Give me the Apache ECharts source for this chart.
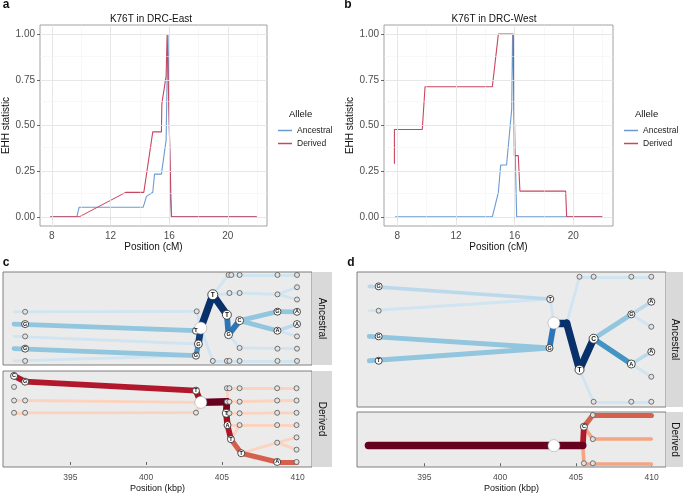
<!DOCTYPE html>
<html>
<head>
<meta charset="utf-8">
<script src="https://cdn.jsdelivr.net/npm/echarts@6/dist/echarts.min.js"></script>
<style>
html, body { margin: 0; padding: 0; background: #fff; }
#chart { width: 683px; height: 496px; }
</style>
</head>
<body>
<div id="chart"></div>
<script>
// EHH decay around K76T (panels a, b): [position cM, EHH]
var eastAncestral = [[7.89,0],[9.70,0],[9.86,0.053],[14.23,0.053],[14.45,0.112],[14.88,0.135],[15.00,0.234],[15.47,0.234],[15.79,0.42],[15.86,0.77],[15.92,1.0],[16.08,0.11],[16.17,0],[21.97,0]];
var eastDerived = [[7.89,0],[9.86,0],[13.03,0.134],[14.27,0.134],[14.88,0.465],[15.47,0.465],[15.50,0.62],[15.79,0.77],[15.86,1.0],[15.95,1.0],[16.15,0],[21.97,0]];
var westAncestral = [[7.84,0],[14.48,0],[14.89,0.134],[15.05,0.284],[15.45,0.284],[15.80,0.588],[15.86,1.0],[16.14,0],[22.0,0]];
var westDerived = [[7.80,0.291],[7.80,0.478],[9.70,0.478],[9.89,0.712],[14.48,0.712],[14.89,1.0],[15.91,1.0],[15.98,0.335],[16.25,0.335],[16.36,0.141],[19.48,0.141],[19.55,0],[22.0,0]];

var cmTicks = [8, 12, 16, 20];
var ehhTicks = [0, 0.25, 0.5, 0.75, 1];
var kbpTicks = [395, 400, 405, 410];

// bifurcation diagrams (panels c, d)
// nodes: [position kbp, haplotype row, allele, haplotypes]   allele '*' = core marker
// branches: [from kbp, from row, to kbp, to row, haplotypes]
var cAncNodes = [
  [392.01,4,'',1],[392.01,3,'G',3],[392.01,2,'T',1],[392.01,1,'G',3],[392.01,0,'T',1],
  [403.34,4.04,'',1],[403.29,2.46,'T',3],[403.45,1.38,'G',4],[403.29,0.43,'G',3],
  [403.61,2.68,'*',0],
  [404.40,5.39,'T',6],[405.33,3.76,'T',5],[405.44,2.14,'G',4],[406.17,3.28,'C',4],
  [405.50,5.53,'T',1],[406.17,5.53,'C',1],
  [405.44,7,'',1],[405.62,7,'',1],[406.17,7,'',1],
  [404.40,0,'',1],[405.33,0,'',1],[405.50,0,'',1],[406.17,0,'',1],[406.17,1.06,'T',1],
  [408.67,7,'',1],[408.67,5.42,'A',1],[408.67,4.01,'G',3],[408.67,2.46,'A',3],[408.67,1,'',1],[408.67,0,'',1],
  [409.96,7,'',1],[409.96,6,'',1],[409.96,5,'',1],[409.96,4,'A',3],[409.96,3,'A',3],[409.96,2,'',1],[409.96,1,'',1],[409.96,0,'',1]
];
var cAncBranches = [
  [391.28,4,403.34,4.04,1],[391.28,3,403.29,2.46,3],[391.28,2,403.45,1.38,1],
  [391.28,1,403.29,0.43,3],[391.28,0,403.29,0.43,1],
  [403.34,4.04,403.61,2.68,1],[403.29,2.46,403.61,2.68,3],[403.29,0.43,403.45,1.38,4],
  [403.45,1.38,403.61,2.68,7],[403.61,2.68,404.40,5.39,8],[404.40,5.39,405.33,3.76,8],
  [405.33,3.76,405.44,2.14,5],[405.44,2.14,406.17,3.28,5],
  [406.17,3.28,408.67,4.01,3],[406.17,3.28,408.67,2.46,3],
  [408.67,4.01,409.96,4,3],[408.67,2.46,409.96,3,2],[408.67,2.46,409.96,2,1],
  [404.40,5.39,406.17,5.53,1],[406.17,5.53,408.67,5.42,1],[408.67,5.42,409.96,6,1],[408.67,5.42,409.96,5,1],
  [404.40,5.39,405.44,7,1],[405.44,7,409.96,7,1],
  [403.61,2.68,404.40,0,1],[404.40,0,409.96,0,1],
  [405.44,2.14,406.17,1.06,1],[406.17,1.06,409.96,1,1]
];
var cDerNodes = [
  [391.28,7,'C',3],[392.01,6.53,'G',3],[391.28,6.1,'',1],
  [391.28,5,'',1],[392.01,5,'',1],[391.28,4,'',1],[392.01,4,'',1],
  [403.29,5.8,'T',3],[403.61,4.85,'*',0],[403.29,4.01,'',1],
  [405.33,6,'',1],[405.50,6,'',1],[406.17,6,'',1],
  [405.33,4.9,'',1],[405.50,4.9,'',1],[406.17,4.9,'',1],
  [405.29,3.96,'T',4],[405.50,3.96,'',1],[406.17,3.96,'',1],
  [405.37,3,'A',3],[406.17,3,'',1],
  [405.60,1.85,'T',3],[406.28,0.71,'T',3],
  [408.65,6,'',1],[409.93,6,'',1],[408.65,5,'',1],[409.93,5,'',1],[408.65,4,'',1],[409.93,4,'',1],
  [408.65,3,'',1],[409.93,3,'',1],[408.65,1.57,'',1],[409.93,2,'',1],[409.93,1,'',1],
  [408.65,0,'A',3],[409.93,0,'',1]
];
var cDerBranches = [
  [391.28,7,392.01,6.53,5],[392.01,6.53,403.29,5.8,5],[403.29,5.8,403.61,4.85,6],
  [391.28,5,392.01,5,1],[392.01,5,403.61,4.85,1],[391.28,4,392.01,4,1],[392.01,4,403.29,4.01,1],
  [403.29,4.01,403.61,4.85,1],
  [403.61,4.85,405.33,4.9,8],[405.33,4.9,405.29,3.96,7],[405.29,3.96,405.37,3,6],
  [405.37,3,405.60,1.85,5],[405.60,1.85,406.28,0.71,4],[406.28,0.71,408.65,0,4],[408.65,0,409.93,0,4],
  [406.28,0.71,408.65,1.57,1],[408.65,1.57,409.93,2,1],[408.65,1.57,409.93,1,1],
  [405.33,4.9,405.33,6,1],[405.33,6,409.93,6,1],[405.33,4.9,409.93,5,1],
  [405.29,3.96,409.93,4,1],[405.37,3,409.93,3,1],[405.60,1.85,406.17,3,1]
];
var dAncNodes = [
  [391.98,9.23,'G',3],[391.98,7.28,'',1],[391.98,5.23,'G',3],[391.98,3.28,'T',3],
  [403.31,8.22,'T',3],[403.55,6.3,'*',0],[403.26,4.3,'G',3],
  [405.24,2.56,'T',5],[406.17,5.04,'C',5],
  [405.24,10,'',1],[406.17,10,'',1],[406.17,0,'',1],
  [408.66,10,'',1],[408.66,6.99,'G',3],[408.66,3.02,'A',4],[408.66,0,'',1],
  [409.98,10,'',1],[409.98,8,'A',3],[409.98,6,'',1],[409.98,4,'A',3],[409.98,2,'',1],[409.98,0,'',1]
];
var dAncBranches = [
  [391.36,9.23,403.31,8.22,2],[391.36,7.28,403.31,8.22,1],
  [391.36,5.23,403.26,4.3,3],[391.36,3.28,403.26,4.3,3],
  [403.31,8.22,403.55,6.3,1],[403.26,4.3,403.55,6.3,5],
  [403.55,6.3,404.39,6.3,8],[404.39,6.3,405.24,2.56,8],[405.24,2.56,406.17,5.04,8],
  [404.39,6.3,405.24,10,1],[405.24,10,409.98,10,1],
  [406.17,5.04,408.66,6.99,3],[406.17,5.04,408.66,3.02,4],
  [408.66,6.99,409.98,8,2],[408.66,6.99,409.98,6,1],
  [408.66,3.02,409.98,4,2],[408.66,3.02,409.98,2,1],
  [405.24,2.56,406.17,0,1],[406.17,0,409.98,0,1]
];
var dDerNodes = [
  [403.55,1.46,'*',0],[405.53,3.03,'C',3],[406.12,4,'C',1],[406.12,2,'',1],[405.53,0,'T',1],[406.12,0,'T',1]
];
var dDerBranches = [
  [391.30,1.46,403.55,1.46,8],[403.55,1.46,405.46,1.46,8],[405.46,1.46,405.53,3.03,5],
  [405.53,3.03,406.12,4,4],[406.12,4,409.98,4,4],
  [405.53,3.03,406.12,2,2],[406.12,2,409.98,2,2],
  [405.46,1.46,405.53,0,2],[405.53,0,409.98,0,2]
];

var FONT = '"Liberation Sans", Arial, Helvetica, sans-serif';
var BLUE = '#6a9bd1', RED = '#c9465f';
var blues = [null,'#d0e4f1','#bcd9ec','#92c5de','#4393c3','#2d75b6','#1f5a9c','#0f3f7a','#08306b'];
var reds = [null,'#fbd3bf','#f4a582','#ec8a6c','#d6604d','#b2182b','#a50f15','#7a0019','#67001f'];
var widths = [0,2.8,3.6,4.8,5.2,5.8,6.3,6.8,7.3];

function branchData(list, pal) {
  return list.slice().sort(function (a, b) { return a[4] - b[4]; }).map(function (b) {
    return { coords: [[b[0], b[1]], [b[2], b[3]]], lineStyle: { color: pal[b[4]], width: widths[b[4]] } };
  });
}

function nodeData(list) {
  return list.map(function (n) {
    var core = n[2] === '*';
    var tiny = n[3] <= 1;
    return {
      value: [n[0], n[1]],
      symbolSize: core ? 12 : Math.min(4 + n[3], 10),
      itemStyle: core ? { color: '#fff', borderColor: '#999', borderWidth: 0.5, opacity: 1 }
                      : { color: tiny ? '#e2e2e2' : '#fff', borderColor: tiny ? '#555' : '#222', borderWidth: 0.8, opacity: 1 },
      label: { show: !core && n[2] !== '' && !tiny, formatter: n[2], fontSize: n[3] >= 5 ? 6.5 : 5.5 }
    };
  });
}

function treeSeries(branches, nodes, pal, idx) {
  return [{
    type: 'lines', coordinateSystem: 'cartesian2d', xAxisIndex: idx, yAxisIndex: idx,
    polyline: false, silent: true, z: 3,
    lineStyle: { cap: 'round', opacity: 1 },
    data: branchData(branches, pal)
  }, {
    type: 'scatter', xAxisIndex: idx, yAxisIndex: idx, silent: true, z: 5, symbol: 'circle',
    itemStyle: { opacity: 1 },
    label: { position: 'inside', color: '#111', fontWeight: 'bold', fontFamily: FONT },
    data: nodeData(nodes)
  }];
}

// panel grid lines drawn through the axes' own scales
function gridLines(idx, xs, ys) {
  var d = [];
  xs.forEach(function (v) {
    d.push({ xAxis: v, lineStyle: { color: '#e4e4e4', width: 0.9, type: 'solid' } });
    d.push({ xAxis: v + 2, lineStyle: { color: '#f1f1f1', width: 0.5, type: 'solid' } });
  });
  ys.forEach(function (v, i) {
    d.push({ yAxis: v, lineStyle: { color: '#e4e4e4', width: 0.9, type: 'solid' } });
    if (i < ys.length - 1) d.push({ yAxis: v + 0.125, lineStyle: { color: '#f1f1f1', width: 0.5, type: 'solid' } });
  });
  return {
    type: 'line', xAxisIndex: idx, yAxisIndex: idx, silent: true, z: 1,
    data: [[xs[0], ys[0]]], showSymbol: false, symbol: 'none', lineStyle: { opacity: 0 },
    markLine: { silent: true, symbol: ['none', 'none'], label: { show: false }, animation: false, data: d }
  };
}

function cmAxis(g, min, max) {
  return {
    type: 'value', gridIndex: g, min: min, max: max,
    name: 'Position (cM)', nameLocation: 'middle', nameGap: 16,
    nameTextStyle: { fontSize: 10, color: '#111', fontFamily: FONT },
    axisLine: { show: false }, splitLine: { show: false },
    axisTick: { show: true, length: 3, customValues: cmTicks, lineStyle: { color: '#444', width: 0.8 } },
    axisLabel: { customValues: cmTicks, fontSize: 10, color: '#4d4d4d', margin: 5, fontFamily: FONT }
  };
}
function ehhAxis(g) {
  return {
    type: 'value', gridIndex: g, min: -0.05, max: 1.05,
    name: 'EHH statistic', nameLocation: 'middle', nameGap: 29, nameRotate: 90,
    nameTextStyle: { fontSize: 10, color: '#111', fontFamily: FONT },
    axisLine: { show: false }, splitLine: { show: false },
    axisTick: { show: true, length: 3, customValues: ehhTicks, lineStyle: { color: '#444', width: 0.8 } },
    axisLabel: { customValues: ehhTicks, fontSize: 10, color: '#4d4d4d', margin: 5, fontFamily: FONT,
      formatter: function (v) { return v.toFixed(2); } }
  };
}
function kbpAxis(g, show) {
  return {
    type: 'value', gridIndex: g, min: 390.55, max: 410.95, show: show,
    name: show ? 'Position (kbp)' : '', nameLocation: 'middle', nameGap: 17,
    nameTextStyle: { fontSize: 9, color: '#111', fontFamily: FONT },
    axisLine: { show: false }, splitLine: { show: false },
    axisTick: { show: show, length: 3, customValues: kbpTicks, lineStyle: { color: '#444', width: 0.8 } },
    axisLabel: { show: show, customValues: kbpTicks, fontSize: 8.5, color: '#4d4d4d', margin: 6, fontFamily: FONT }
  };
}
function rowAxis(g, min, max) {
  return { type: 'value', gridIndex: g, min: min, max: max, show: false, splitLine: { show: false } };
}

function txt(x, y, s, font, extra, align) {
  var o = { type: 'text', x: x, y: y, silent: true,
    style: { text: s, font: font, fill: '#111', textAlign: align || 'center', textVerticalAlign: 'middle' } };
  if (extra) for (var k in extra) o[k] = extra[k];
  return o;
}
function strip(x, y, w, h, label) {
  return [
    { type: 'rect', silent: true, shape: { x: x, y: y, width: w, height: h }, style: { fill: '#d9d9d9' } },
    txt(x + w / 2, y + h / 2, label, '10px ' + FONT, { rotation: -Math.PI / 2 })
  ];
}

var myChart = echarts.init(document.getElementById('chart'));

var lineGrid = { show: true, backgroundColor: '#fff', borderColor: '#8c8c8c', borderWidth: 0.8 };
var treeGrid = { show: true, backgroundColor: '#ebebeb', borderColor: '#7f7f7f', borderWidth: 1 };
function grid(base, l, t, w, h) {
  return Object.assign({}, base, { left: l, top: t, width: w, height: h });
}

var legendBase = {
  orient: 'vertical', data: ['Ancestral', 'Derived'], icon: 'rect', itemWidth: 14, itemHeight: 1.5,
  itemGap: 4, selectedMode: false, textStyle: { fontSize: 8.5, color: '#222', fontFamily: FONT }
};

var option = {
  animation: false,
  textStyle: { fontFamily: FONT },
  grid: [
    grid(lineGrid, 39, 25, 228, 201),
    grid(lineGrid, 384, 25, 229, 201),
    grid(treeGrid, 3, 272, 309, 93),
    grid(treeGrid, 3, 371, 309, 96),
    grid(treeGrid, 357, 272, 309, 135),
    grid(treeGrid, 357, 412, 309, 55)
  ],
  xAxis: [
    cmAxis(0, 7.19, 22.67), cmAxis(1, 7.09, 22.71),
    kbpAxis(2, false), kbpAxis(3, true), kbpAxis(4, false), kbpAxis(5, true)
  ],
  yAxis: [
    ehhAxis(0), ehhAxis(1),
    rowAxis(2, -0.33, 7.24), rowAxis(3, -0.41, 7.4), rowAxis(4, -0.42, 10.38), rowAxis(5, -0.31, 4.25)
  ],
  legend: [
    Object.assign({}, legendBase, { left: 273, top: 121 }),
    Object.assign({}, legendBase, { left: 619, top: 121 })
  ],
  series: [
    gridLines(0, cmTicks, ehhTicks),
    gridLines(1, cmTicks, ehhTicks),
    { name: 'Ancestral', type: 'line', xAxisIndex: 0, yAxisIndex: 0, data: eastAncestral, showSymbol: false, z: 2,
      lineStyle: { color: BLUE, width: 1.1 }, itemStyle: { color: BLUE } },
    { name: 'Derived', type: 'line', xAxisIndex: 0, yAxisIndex: 0, data: eastDerived, showSymbol: false, z: 2,
      lineStyle: { color: RED, width: 1.1 }, itemStyle: { color: RED } },
    { name: 'Ancestral', type: 'line', xAxisIndex: 1, yAxisIndex: 1, data: westAncestral, showSymbol: false, z: 2,
      lineStyle: { color: BLUE, width: 1.1 }, itemStyle: { color: BLUE } },
    { name: 'Derived', type: 'line', xAxisIndex: 1, yAxisIndex: 1, data: westDerived, showSymbol: false, z: 2,
      lineStyle: { color: RED, width: 1.1 }, itemStyle: { color: RED } }
  ]
    .concat(treeSeries(cAncBranches, cAncNodes, blues, 2))
    .concat(treeSeries(cDerBranches, cDerNodes, reds, 3))
    .concat(treeSeries(dAncBranches, dAncNodes, blues, 4))
    .concat(treeSeries(dDerBranches, dDerNodes, reds, 5)),
  graphic: [
    txt(6, 5, 'a', 'bold 12px ' + FONT),
    txt(348, 5, 'b', 'bold 12px ' + FONT),
    txt(6, 263, 'c', 'bold 12px ' + FONT),
    txt(351, 263, 'd', 'bold 12px ' + FONT),
    txt(151, 19, 'K76T in DRC-East', '10px ' + FONT),
    txt(494, 19, 'K76T in DRC-West', '10px ' + FONT),
    txt(289, 114, 'Allele', '9.5px ' + FONT, null, 'left'),
    txt(635, 114, 'Allele', '9.5px ' + FONT, null, 'left')
  ].concat(strip(312, 272, 20, 93, 'Ancestral'))
   .concat(strip(312, 371, 20, 96, 'Derived'))
   .concat(strip(666, 272, 17, 135, 'Ancestral'))
   .concat(strip(666, 412, 17, 55, 'Derived'))
};

myChart.setOption(option);
</script>
</body>
</html>
